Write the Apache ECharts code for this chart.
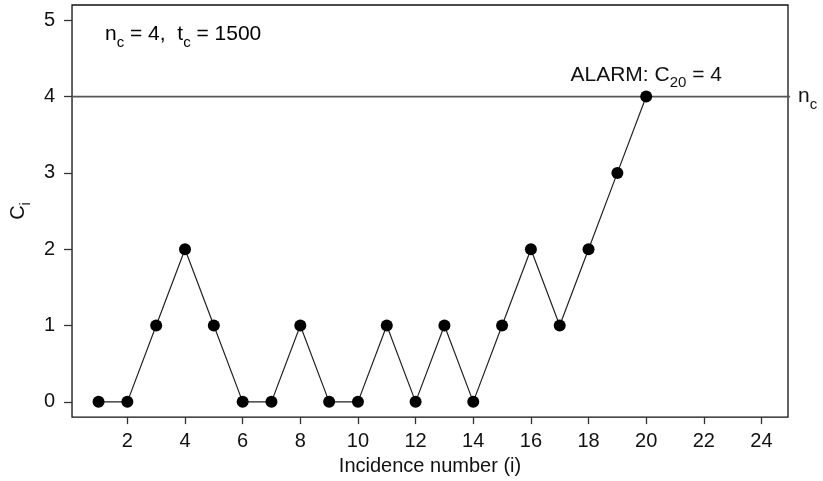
<!DOCTYPE html>
<html>
<head>
<meta charset="utf-8">
<script src="https://cdn.jsdelivr.net/npm/echarts@6/dist/echarts.min.js"></script>
<style>
  html, body { margin: 0; padding: 0; background: #fff; }
  #chart { width: 823px; height: 481px; }
</style>
</head>
<body>
<div id="chart"></div>
<script>
// Cumulative count C_i per incidence number i
const incidence = [1, 2, 3, 4, 5, 6, 7, 8, 9, 10, 11, 12, 13, 14, 15, 16, 17, 18, 19, 20];
const counts    = [0, 0, 1, 2, 1, 0, 0, 1, 0, 0, 1, 0, 1, 0, 1, 2, 1, 2, 3, 4];
const nc = 4;          // alarm threshold
const tc = 1500;       // time window
const alarmIndex = 20; // incidence where the alarm fires
const xTicks = [2, 4, 6, 8, 10, 12, 14, 16, 18, 20, 22, 24];
const yTicks = [0, 1, 2, 3, 4, 5];
const xRange = [0.08, 24.92];
const yRange = [-0.2, 5.2];
const thresholdX = [0.08, 25.07];

const FONT = 'Liberation Sans, Arial, sans-serif';
const sizeMain = 20;
// rich styles: axis text (m/s) and slightly larger annotation text (a/b)
const rich = {
  m: { fontFamily: FONT, fontSize: 20, color: '#111', lineHeight: 20, verticalAlign: 'top' },
  s: { fontFamily: FONT, fontSize: 14, color: '#111', lineHeight: 14, padding: [11, 0, 0, 0], verticalAlign: 'top' },
  a: { fontFamily: FONT, fontSize: 21, color: '#111', lineHeight: 21, verticalAlign: 'top' },
  b: { fontFamily: FONT, fontSize: 15, color: '#111', lineHeight: 15, padding: [11, 0, 0, 0], verticalAlign: 'top' }
};

const chart = echarts.init(document.getElementById('chart'), null, { renderer: 'canvas' });

const pointData = incidence.map((x, k) => {
  const item = { value: [x, counts[k]] };
  if (x === alarmIndex) {
    item.label = {
      show: true,
      position: 'top',
      distance: 5,
      formatter: '{a|ALARM: C}{b|' + alarmIndex + '}{a| = ' + counts[k] + '}',
      rich: rich
    };
  }
  return item;
});

chart.setOption({
  animation: false,
  backgroundColor: '#fff',
  grid: {
    left: 72, right: 35, top: 5, bottom: 61,
    show: true, borderColor: '#111', borderWidth: 1.3, backgroundColor: 'transparent'
  },
  xAxis: {
    type: 'value',
    min: xRange[0], max: xRange[1],
    name: 'Incidence number (i)',
    nameLocation: 'middle',
    nameGap: 36,
    nameTextStyle: { fontFamily: FONT, fontSize: sizeMain, color: '#111' },
    axisLine: { show: false, onZero: false },
    splitLine: { show: false },
    axisTick: { show: true, inside: false, length: 7, customValues: xTicks, lineStyle: { color: '#333', width: 1.3 } },
    axisLabel: { customValues: xTicks, margin: 14, fontFamily: FONT, fontSize: sizeMain, color: '#111' }
  },
  yAxis: {
    type: 'value',
    min: yRange[0], max: yRange[1],
    name: '{m|C}{s|i}',
    nameLocation: 'middle',
    nameRotate: 90,
    nameGap: 38,
    nameTextStyle: { rich: rich },
    axisLine: { show: false, onZero: false },
    splitLine: { show: false },
    axisTick: { show: true, inside: false, length: 8, customValues: yTicks, lineStyle: { color: '#333', width: 1.3 } },
    axisLabel: { customValues: yTicks, margin: 17, fontFamily: FONT, fontSize: sizeMain, color: '#111' }
  },
  graphic: [{
    type: 'text',
    left: 105, top: 24,
    style: {
      text: '{a|n}{b|c}{a| = ' + nc + ',  t}{b|c}{a| = ' + tc + '}',
      rich: rich
    }
  }],
  series: [
    {
      name: 'threshold',
      type: 'line',
      clip: false,
      silent: true,
      symbol: 'none',
      data: thresholdX.map(x => [x, nc]),
      lineStyle: { color: '#555', width: 1.6 },
      endLabel: {
        show: true,
        distance: 8,
        formatter: '{a|n}{b|c}',
        rich: rich
      },
      z: 1
    },
    {
      name: 'C',
      type: 'line',
      data: pointData,
      symbol: 'circle',
      symbolSize: 12,
      itemStyle: { color: '#000' },
      lineStyle: { color: '#222', width: 1.2 },
      z: 3
    }
  ]
});
</script>
</body>
</html>
